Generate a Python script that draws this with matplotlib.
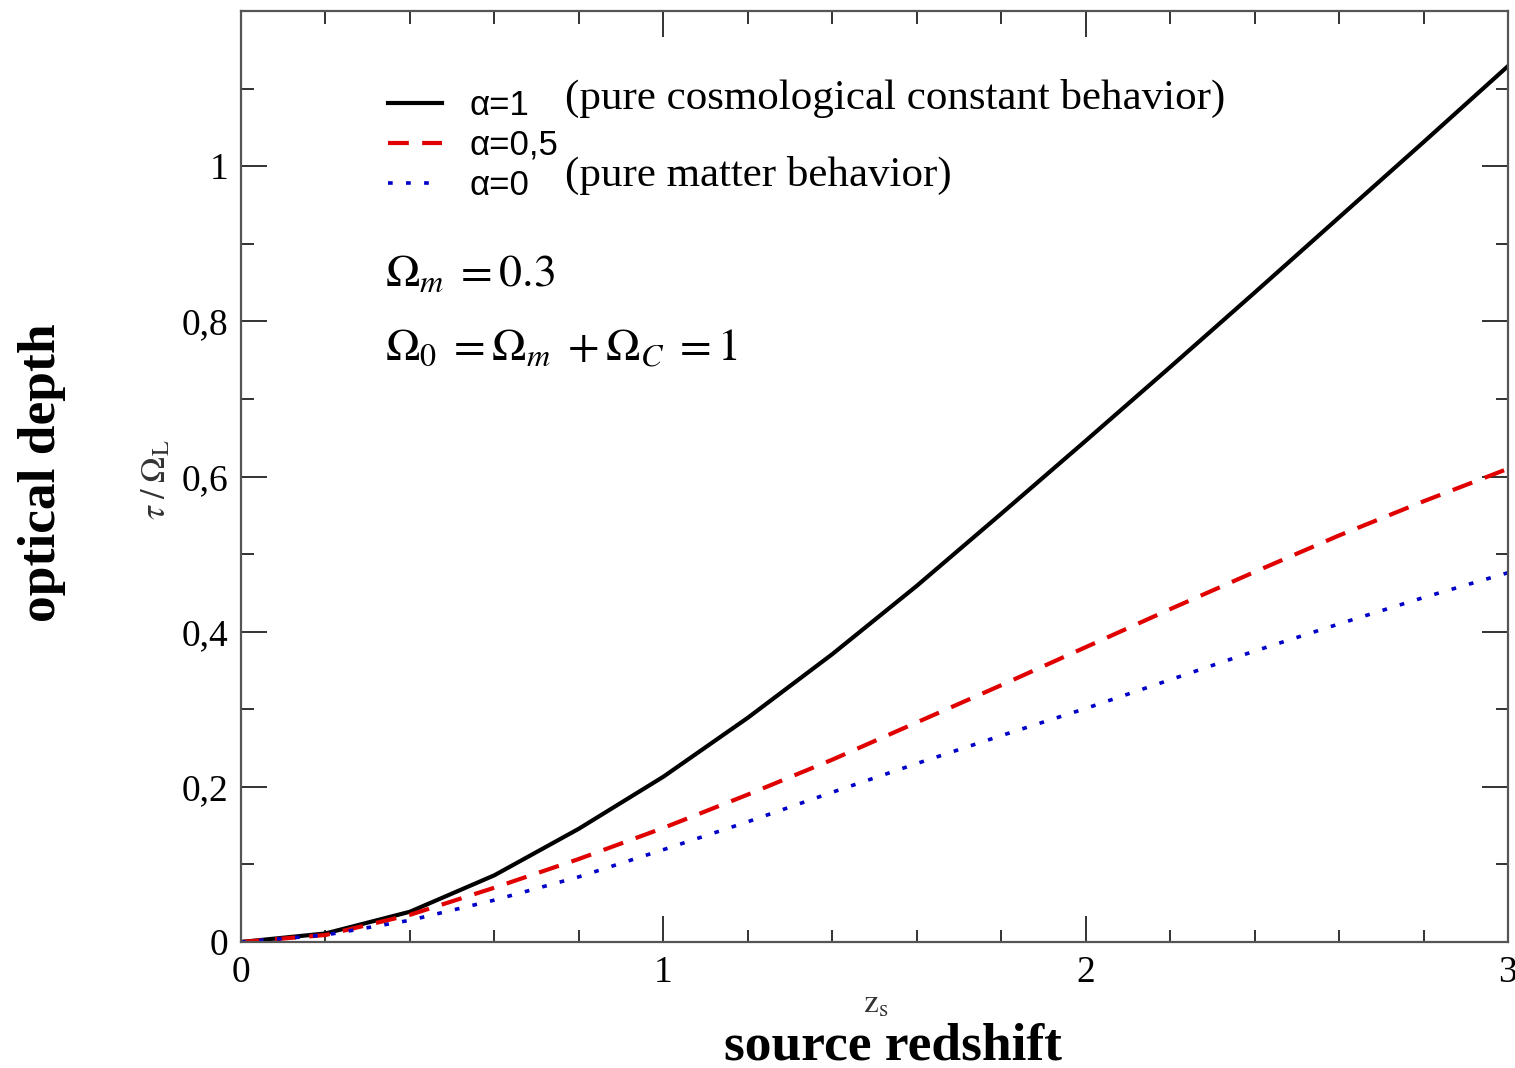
import matplotlib
matplotlib.use("Agg")
import matplotlib.pyplot as plt
from matplotlib.ticker import FixedLocator, FuncFormatter

# ---- data ----
z_s = [0.0, 0.2, 0.4, 0.6, 0.8, 1.0, 1.2, 1.4, 1.6, 1.8, 2.0, 2.2, 2.4, 2.6, 2.8, 3.0]
tau_alpha1 = [0.0, 0.011, 0.039, 0.086, 0.146, 0.213, 0.289, 0.371, 0.459, 0.552,
              0.646, 0.741, 0.837, 0.934, 1.031, 1.129]
tau_alpha05 = [0.0, 0.009, 0.035, 0.070, 0.107, 0.147, 0.190, 0.235, 0.283, 0.331,
               0.380, 0.429, 0.477, 0.524, 0.568, 0.610]
tau_alpha0 = [0.0, 0.009, 0.028, 0.054, 0.084, 0.119, 0.155, 0.193, 0.230, 0.266,
              0.301, 0.338, 0.375, 0.410, 0.444, 0.476]

series_labels = ["α=1", "α=0,5", "α=0"]
x_major = [0, 1, 2, 3]
x_minor = [0.2, 0.4, 0.6, 0.8, 1.2, 1.4, 1.6, 1.8, 2.2, 2.4, 2.6, 2.8]
y_major = [0, 0.2, 0.4, 0.6, 0.8, 1.0]
y_minor = [0.1, 0.3, 0.5, 0.7, 0.9, 1.1]

plt.rcParams['mathtext.fontset'] = 'stix'
serif = ['Liberation Serif', 'DejaVu Serif']

W, H = 1515, 1068
fig = plt.figure(figsize=(W / 100, H / 100), dpi=100)
L, R, T, B = 241, 1508, 11, 942
ax = fig.add_axes([L / W, 1 - B / H, (R - L) / W, (B - T) / H])

ax.plot(z_s, tau_alpha1, color='black', lw=3.0, label=series_labels[0])
ax.plot(z_s, tau_alpha05, color='#e00000', lw=3.0, linestyle=(0, (5.0, 3.2)),
        label=series_labels[1])
ax.plot(z_s, tau_alpha0, color='#0000c8', lw=2.6, linestyle=(0, (1.3, 3.7)),
        label=series_labels[2])

ax.set_xlim(0, 3)
ax.set_ylim(0, 1.2)

ax.xaxis.set_major_locator(FixedLocator(x_major))
ax.xaxis.set_minor_locator(FixedLocator(x_minor))
ax.yaxis.set_major_locator(FixedLocator(y_major))
ax.yaxis.set_minor_locator(FixedLocator(y_minor))


def comma_fmt(v, pos):
    if abs(v - round(v)) < 1e-9:
        return "%d" % round(v)
    return ("%g" % v).replace('.', ',')


ax.xaxis.set_major_formatter(FuncFormatter(comma_fmt))
ax.yaxis.set_major_formatter(FuncFormatter(comma_fmt))

ax.tick_params(which='both', direction='in', top=True, right=True, color='#222222', width=1.3)
ax.tick_params(which='major', length=19)
ax.tick_params(which='minor', length=9)
ax.tick_params(axis='x', which='major', pad=10)
ax.tick_params(axis='y', which='major', pad=9)
for lab in ax.get_xticklabels() + ax.get_yticklabels():
    lab.set_fontfamily(serif)
    lab.set_fontsize(27)
for sp in ax.spines.values():
    sp.set_color('#555555')
    sp.set_linewidth(1.6)

# legend
leg = ax.legend(loc='upper left', bbox_to_anchor=((388 - L) / (R - L), 1 - (89 - T) / (B - T)),
                frameon=False, borderaxespad=0, borderpad=0,
                handlelength=1.55, handletextpad=0.8, labelspacing=0.2,
                prop={'family': ['Liberation Sans', 'DejaVu Sans'], 'size': 25})

fig.text(565 / W, 1 - 98 / H, "(pure cosmological constant behavior)", family=serif,
         fontsize=31, va='center', ha='left')
fig.text(565 / W, 1 - 175 / H, "(pure matter behavior)", family=serif,
         fontsize=31, va='center', ha='left')

fig.text(385 / W, 1 - 273 / H, r"$\Omega_m\;=0.3$", fontsize=33, va='center', ha='left')
fig.text(385 / W, 1 - 348 / H, r"$\Omega_0\;=\Omega_m\;+\Omega_C\;=1$", fontsize=33,
         va='center', ha='left')

# axis labels
fig.text(155 / W, 1 - 480 / H, r"$\tau\;/\;\Omega_{\mathrm{L}}$", fontsize=25,
         rotation=90, va='center', ha='center', color='#333333')
fig.text(42 / W, 1 - 473 / H, "optical depth", family=serif, fontweight='bold',
         fontsize=38.5, rotation=90, va='center', ha='center')
fig.text(876 / W, 1 - 1003 / H, r"$\mathrm{z}_{\mathrm{s}}$", fontsize=24,
         va='center', ha='center', color='#333333')
fig.text(893 / W, 1 - 1047 / H, "source redshift", family=serif, fontweight='bold',
         fontsize=38.5, va='center', ha='center')

fig.savefig("out.png", dpi=100)
